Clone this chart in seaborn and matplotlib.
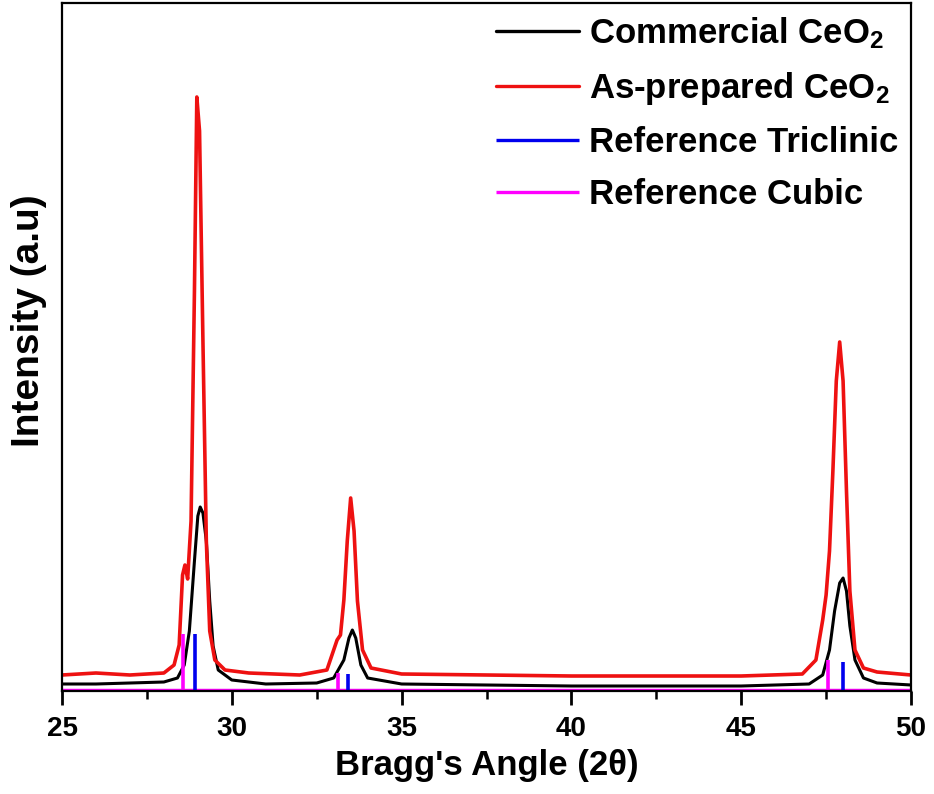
import matplotlib
matplotlib.use("Agg")
import matplotlib.pyplot as plt
import seaborn as sns
import pandas as pd

# ---- data (intensity in arbitrary units) ----
comm_x = [25, 26, 27, 28, 28.4, 28.6, 28.75, 28.9, 29.0, 29.07, 29.15, 29.25, 29.35, 29.45, 29.6, 30, 31,
          32.5, 33.0, 33.3, 33.45, 33.55, 33.65, 33.8, 34.0, 35, 40, 45, 47, 47.4, 47.6, 47.75, 47.9,
          48.0, 48.1, 48.2, 48.35, 48.6, 49, 50]
comm_y = [7, 7, 8, 9, 13, 26, 60, 130, 175, 184, 178, 150, 90, 45, 21, 11, 7,
          8, 13, 31, 53, 61, 53, 26, 13, 7, 5, 5, 7, 16, 41, 80, 108,
          113, 100, 65, 31, 13, 8, 6]

prep_x = [25, 26, 27, 28, 28.3, 28.45, 28.55, 28.62, 28.7, 28.8, 28.9, 28.97, 29.05, 29.15, 29.25, 29.35,
          29.5, 29.8, 30.5, 32, 32.8, 33.0, 33.1, 33.2, 33.3, 33.4, 33.5, 33.6, 33.7, 33.85, 34.1, 35,
          40, 45, 46.8, 47.2, 47.4, 47.5, 47.6, 47.7, 47.8, 47.9, 48.0, 48.1, 48.2, 48.35, 48.6, 49, 50]
prep_y = [16, 18, 16, 18, 26, 46, 116, 126, 112, 170, 400, 594, 560, 350, 150, 60,
          31, 21, 18, 16, 21, 41, 51, 56, 91, 150, 193, 160, 90, 41, 23, 17,
          15, 15, 17, 31, 71, 96, 140, 220, 310, 349, 310, 200, 100, 41, 23, 19, 16]

tric_pos = [28.91, 33.41, 48.0]
tric_h = [57, 17, 29]
cubic_pos = [28.57, 33.12, 47.56]
cubic_h = [57, 18, 31]

labels = ["Commercial CeO$_2$", "As-prepared CeO$_2$", "Reference Triclinic", "Reference Cubic"]
colors = ["#000000", "#ee1111", "#0000ee", "#ff00ff"]

# ---- style ----
sns.set_style("ticks")
plt.rcParams["font.family"] = ["Liberation Sans", "DejaVu Sans"]
plt.rcParams["font.weight"] = "bold"
plt.rcParams["mathtext.fontset"] = "custom"
plt.rcParams["mathtext.rm"] = "Liberation Sans:bold"
plt.rcParams["mathtext.it"] = "Liberation Sans:bold"
plt.rcParams["mathtext.bf"] = "Liberation Sans:bold"
for k in ["text.color", "axes.labelcolor", "xtick.color", "ytick.color", "axes.edgecolor"]:
    plt.rcParams[k] = "black"

fig = plt.figure(figsize=(9.34, 7.94), dpi=100)
ax = fig.add_axes([62 / 934, 103 / 794, 849 / 934, 688 / 794])

df_c = pd.DataFrame({"x": comm_x, "y": comm_y})
df_p = pd.DataFrame({"x": prep_x, "y": prep_y})
sns.lineplot(data=df_c, x="x", y="y", ax=ax, color=colors[0], lw=2.2, sort=False, estimator=None,
             label=labels[0])
sns.lineplot(data=df_p, x="x", y="y", ax=ax, color=colors[1], lw=2.6, sort=False, estimator=None,
             label=labels[1])
ax.vlines(tric_pos, 0, tric_h, color=colors[2], lw=2.6, label=labels[2])
ax.vlines(cubic_pos, 0, cubic_h, color=colors[3], lw=2.6, label=labels[3])
ax.axhline(1.0, color=colors[3], lw=2.5, zorder=1)

ax.set_xlim(25, 50)
ax.set_ylim(0, 688)
ax.set_yticks([])
ax.set_xticks([25, 30, 35, 40, 45, 50])
ax.set_xticks([27.5, 32.5, 37.5, 42.5, 47.5], minor=True)
ax.tick_params(axis="x", which="major", direction="out", length=10, width=2.0, labelsize=20, pad=8)
ax.tick_params(axis="x", which="minor", direction="out", length=6, width=1.8)
for lab in ax.get_xticklabels():
    lab.set_fontweight("bold")
for s in ax.spines.values():
    s.set_linewidth(1.6)
    s.set_visible(True)

ax.set_xlabel("Bragg's Angle (2\u03b8)", fontsize=25, fontweight="bold", labelpad=5)
ax.set_ylabel("Intensity (a.u)", fontsize=28, fontweight="bold")
ax.yaxis.set_label_coords(-0.018, 0.538)

leg = ax.legend(loc="upper right", frameon=False, fontsize=25, handlelength=2.4, handletextpad=0.3,
                labelspacing=0.55, borderaxespad=0.0, borderpad=0.35)
for line in leg.get_lines():
    line.set_linewidth(2.4)

fig.savefig("out.png", dpi=100)
